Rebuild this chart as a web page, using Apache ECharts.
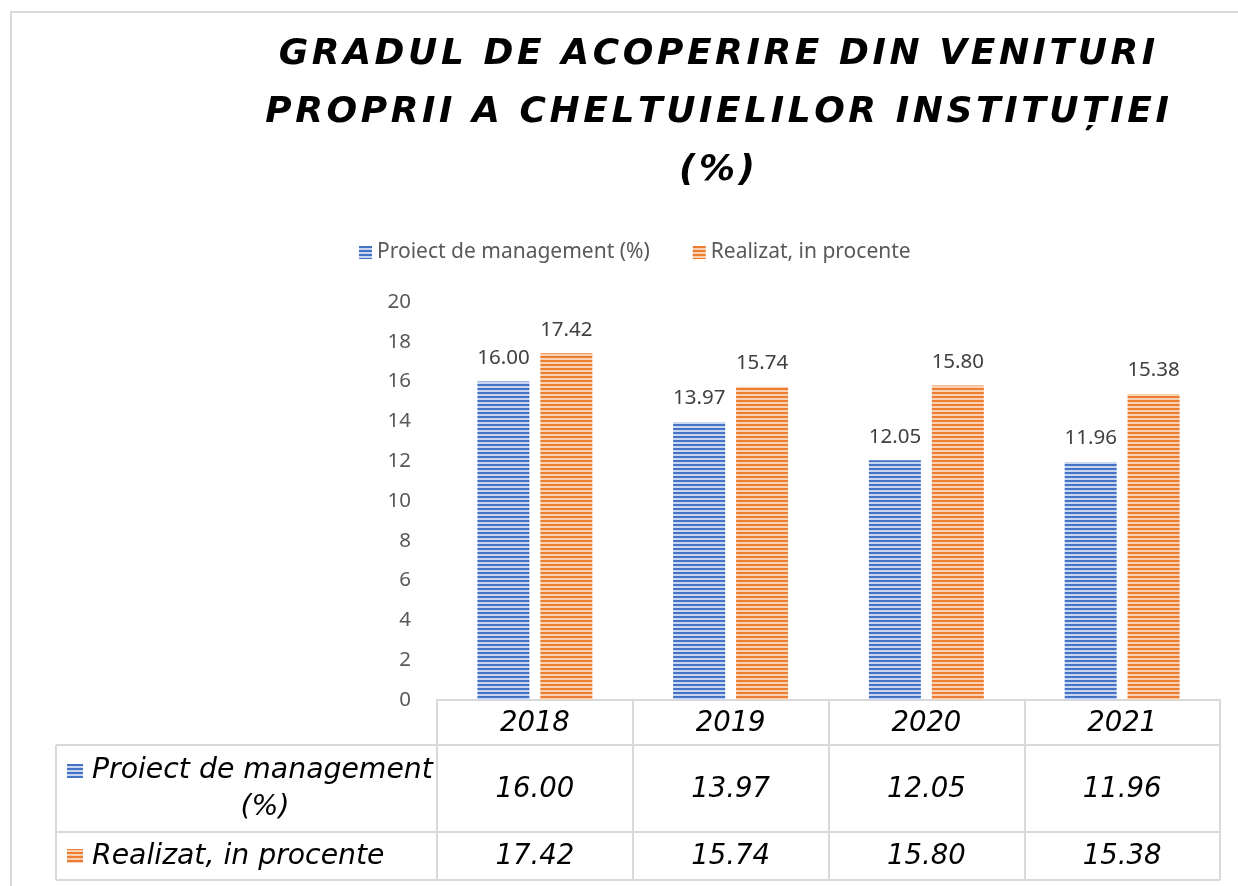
<!DOCTYPE html>
<html><head><meta charset="utf-8">
<script src="https://cdn.jsdelivr.net/npm/echarts@6/dist/echarts.min.js"></script>
<style>html,body{margin:0;padding:0;background:#fff}#c{width:1238px;height:886px}</style>
</head><body><div id="c"></div>
<script>
const titleLines = ['GRADUL DE ACOPERIRE DIN VENITURI', 'PROPRII A CHELTUIELILOR INSTITUȚIEI', '(%)'];
const categories = ['2018', '2019', '2020', '2021'];
const seriesNames = ['Proiect de management (%)', 'Realizat, in procente'];
const tableRowLabels = [['Proiect de management', '(%)'], ['Realizat, in procente']];
const proiect = [16.00, 13.97, 12.05, 11.96];
const realizat = [17.42, 15.74, 15.80, 15.38];
const yTicks = { min: 0, max: 20, interval: 2 };

function stripe(base, light) {
  const c = document.createElement('canvas');
  c.width = 4; c.height = 4;
  const g = c.getContext('2d');
  g.fillStyle = base; g.fillRect(0, 0, 4, 4);
  g.fillStyle = light; g.fillRect(0, 2, 4, 2);
  return { image: c, repeat: 'repeat' };
}
const blueFill = stripe('#4472C4', '#c9d6ef');
const orangeFill = stripe('#ED7D31', '#f9d2b6');

const GL = 437, GR = 18, GT = 302, GB = 186;
const chart = echarts.init(document.getElementById('c'));
const labelStyle = { show: true, position: 'top', distance: 13, color: '#404040', fontSize: 20.5, fontFamily: 'Noto Sans', formatter: p => p.value.toFixed(2) };
chart.setOption({
  animation: false,
  backgroundColor: '#fff',
  legend: {
    data: seriesNames, top: 237, left: 354, itemWidth: 13, itemHeight: 13, itemGap: 43,
    icon: 'rect',
    textStyle: { color: '#595959', fontSize: 21, fontFamily: 'Noto Sans' }
  },
  grid: { left: GL, right: GR, top: GT, bottom: GB, containLabel: false },
  xAxis: {
    type: 'category', data: categories,
    axisLine: { show: true, lineStyle: { color: '#d9d9d9', width: 2 } },
    axisTick: { show: true, length: 180, interval: 0, lineStyle: { color: '#d9d9d9', width: 2 } },
    axisLabel: { margin: 10, color: '#000', fontSize: 27.5, fontStyle: 'italic', fontFamily: 'DejaVu Sans', verticalAlign: 'top' }
  },
  yAxis: {
    type: 'value', min: yTicks.min, max: yTicks.max, interval: yTicks.interval,
    axisLine: { show: false }, axisTick: { show: false }, splitLine: { show: false },
    axisLabel: { margin: 26, color: '#595959', fontSize: 20.5, fontFamily: 'Noto Sans' }
  },
  series: [
    { name: seriesNames[0], type: 'bar', data: proiect, barWidth: 52, barGap: '21%', itemStyle: { color: blueFill }, label: labelStyle },
    { name: seriesNames[1], type: 'bar', data: realizat, barWidth: 52, itemStyle: { color: orangeFill }, label: labelStyle }
  ]
});

const titleFont = { fill: '#000', fontSize: 36, fontWeight: 'bold', fontStyle: 'italic', fontFamily: 'DejaVu Sans', align: 'center', verticalAlign: 'middle' };
const spaced = s => s.split('').join('\u200A');
const g = [];
g.push({ type: 'rect', shape: { x: 11, y: 12, width: 1400, height: 1000 }, style: { fill: 'none', stroke: '#d9d9d9', lineWidth: 2 }, silent: true });
titleLines.forEach((t, i) => g.push({ type: 'text', x: 717, y: 55 + i * 58, style: Object.assign({ text: spaced(t) }, titleFont) }));

const right = 1238 - GR;
const rowLines = [745, 832, 880];
rowLines.forEach(y => g.push({ type: 'line', shape: { x1: 56, y1: y, x2: right, y2: y }, style: { stroke: '#d9d9d9', lineWidth: 2 } }));
g.push({ type: 'line', shape: { x1: 56, y1: 745, x2: 56, y2: 880 }, style: { stroke: '#d9d9d9', lineWidth: 2 } });

const cellFont = { fill: '#000', fontSize: 27.5, fontStyle: 'italic', fontFamily: 'DejaVu Sans', align: 'center', verticalAlign: 'middle' };
const rows = [proiect, realizat];
const rowY = [790, 857];
rows.forEach((vals, r) => {
  vals.forEach((v, i) => {
    const x = chart.convertToPixel({ xAxisIndex: 0 }, categories[i]);
    g.push({ type: 'text', x: x, y: rowY[r], style: Object.assign({ text: v.toFixed(2) }, cellFont) });
  });
});
const headFont = Object.assign({}, cellFont, { fontSize: 28.3 });
g.push({ type: 'rect', shape: { x: 67, y: 764, width: 16, height: 14 }, style: { fill: blueFill } });
g.push({ type: 'text', x: 92, y: 771, style: Object.assign({}, headFont, { text: tableRowLabels[0][0], align: 'left' }) });
g.push({ type: 'text', x: 265, y: 808, style: Object.assign({}, headFont, { text: tableRowLabels[0][1] }) });
g.push({ type: 'rect', shape: { x: 67, y: 849, width: 16, height: 14 }, style: { fill: orangeFill } });
g.push({ type: 'text', x: 92, y: 857, style: Object.assign({}, headFont, { text: tableRowLabels[1][0], align: 'left' }) });

chart.setOption({ graphic: g });
</script></body></html>
